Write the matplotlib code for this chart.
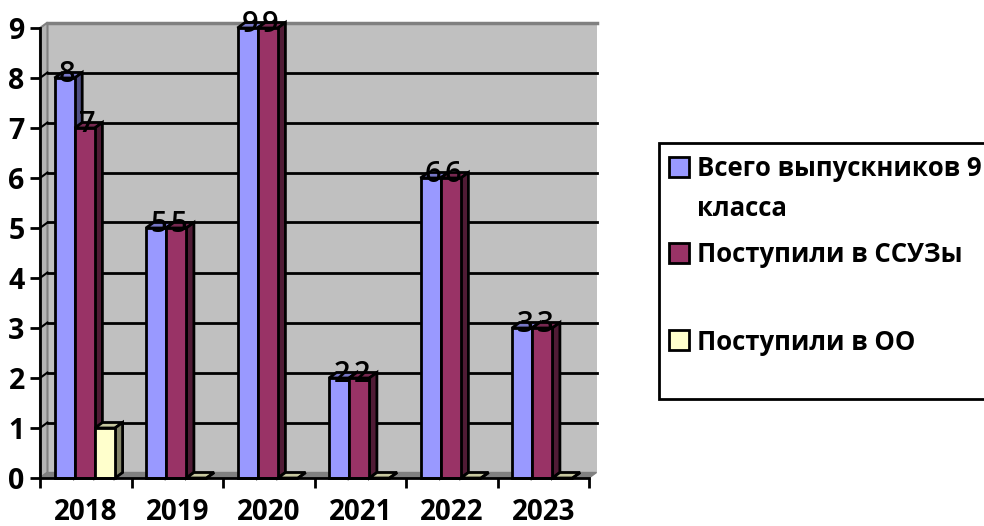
import matplotlib
matplotlib.use("Agg")
import matplotlib.pyplot as plt
from matplotlib.patches import Polygon, Rectangle

years = ["2018", "2019", "2020", "2021", "2022", "2023"]
total = [8, 5, 9, 2, 6, 3]
ssuz = [7, 5, 9, 2, 6, 3]
oo = [1, 0, 0, 0, 0, 0]
series_names = ["Всего выпускников 9\nкласса", "Поступили в ССУЗы", "Поступили в ОО"]

W, H = 984, 526
FONT = "Open Sans"
fig = plt.figure(figsize=(W / 100, H / 100), dpi=100)
L, R, T, B = 40, 589, 28, 478
ax = fig.add_axes([L / W, 1 - B / H, (R - L) / W, (B - T) / H])
ax.set_xlim(0, 6)
ax.set_ylim(0, 9)
ax.patch.set_visible(False)

pxx = 6 / (R - L)
pxy = 9 / (B - T)
DX, DY = 7.5 * pxx, 5.5 * pxy
EDGE = 2.0

# walls
ax.add_patch(Polygon([(DX, DY), (6 + DX, DY), (6 + DX, 9 + DY), (DX, 9 + DY)], fc="#C0C0C0", ec="none", zorder=0, clip_on=False))
ax.add_patch(Polygon([(0, 0), (DX, DY), (DX, 9 + DY), (0, 9)], fc="#B4B4B4", ec="#808080", lw=1.5, zorder=0.5, clip_on=False))
ax.add_patch(Polygon([(0, 0), (6, 0), (6 + DX, DY), (DX, DY)], fc="#808080", ec="#808080", lw=1, zorder=0.5, clip_on=False))
ax.plot([DX, 6 + DX], [9 + DY, 9 + DY], color="#808080", lw=2.5, zorder=0.6, clip_on=False)

# gridlines
for v in range(1, 9):
    ax.plot([DX, 6 + DX], [v + DY, v + DY], color="black", lw=2, zorder=1, clip_on=False)
    ax.plot([0, DX], [v, v + DY], color="black", lw=1.5, zorder=1, clip_on=False)


def shade(c, k):
    r, g, b = matplotlib.colors.to_rgb(c)
    return (r * k, g * k, b * k)


colors = ["#9999FF", "#993366", "#FFFFCC"]
bw = 20.2 * pxx
start = 14.5 * pxx
order = 2
for s, (vals, col) in enumerate(zip([total, ssuz, oo], colors)):
    for i, v in enumerate(vals):
        x0 = i + start + s * bw
        z = order + i * 3 + s
        ax.bar(x0, v, width=bw, align="edge", color=col, edgecolor="black", linewidth=EDGE, zorder=z + .2, clip_on=False)
        ax.add_patch(Polygon([(x0, v), (x0 + bw, v), (x0 + bw + DX, v + DY), (x0 + DX, v + DY)],
                             fc=shade(col, 0.78), ec="black", lw=EDGE, zorder=z, clip_on=False))
        ax.add_patch(Polygon([(x0 + bw, 0), (x0 + bw + DX, DY), (x0 + bw + DX, v + DY), (x0 + bw, v)],
                             fc=shade(col, 0.52), ec="black", lw=EDGE, zorder=z, clip_on=False))
        if s < 2:
            ax.text(x0 + bw / 2 + 2.5 * pxx, v + 4 * pxy, str(v), ha="center", va="center",
                    fontsize=21, family=FONT, fontweight="semibold", color="black", zorder=50, clip_on=False)

# axes
for side in ("top", "right"):
    ax.spines[side].set_visible(False)
for side in ("left", "bottom"):
    ax.spines[side].set_linewidth(2)
    ax.spines[side].set_zorder(40)
ax.set_yticks(range(0, 10))
ax.set_xticks(range(0, 7))
ax.set_xticklabels([])
ax.tick_params(axis="both", length=7, width=2, direction="out")
ax.tick_params(axis="y", pad=4, labelsize=20.5)
for t in ax.get_yticklabels():
    t.set_fontfamily(FONT)
    t.set_fontweight("bold")
for i, y in enumerate(years):
    ax.text(i + 0.5, -34 * pxy, y, ha="center", va="center", fontsize=20, family=FONT,
            fontweight="bold", clip_on=False)

# legend box
fig.add_artist(Rectangle((659 / W, 1 - 399 / H), (W + 20 - 659) / W, (399 - 143) / H, transform=fig.transFigure,
                         fc="white", ec="black", lw=2))
legend_rows = [167, 253, 340]
for sy, col, name in zip(legend_rows, colors, series_names):
    fig.add_artist(Rectangle((669 / W, 1 - (sy + 10) / H), 20 / W, 20 / H, transform=fig.transFigure,
                             fc=col, ec="black", lw=2))
    if "\n" in name:
        a, b = name.split("\n")
        fig.text(697 / W, 1 - 169 / H, a, va="center", ha="left", fontsize=18.5, family=FONT, fontweight="bold")
        fig.text(697 / W, 1 - 208 / H, b, va="center", ha="left", fontsize=18.5, family=FONT, fontweight="bold")
    else:
        fig.text(697 / W, 1 - (sy + 2) / H, name, va="center", ha="left", fontsize=18.5, family=FONT, fontweight="bold")

fig.savefig("out.png", dpi=100)
